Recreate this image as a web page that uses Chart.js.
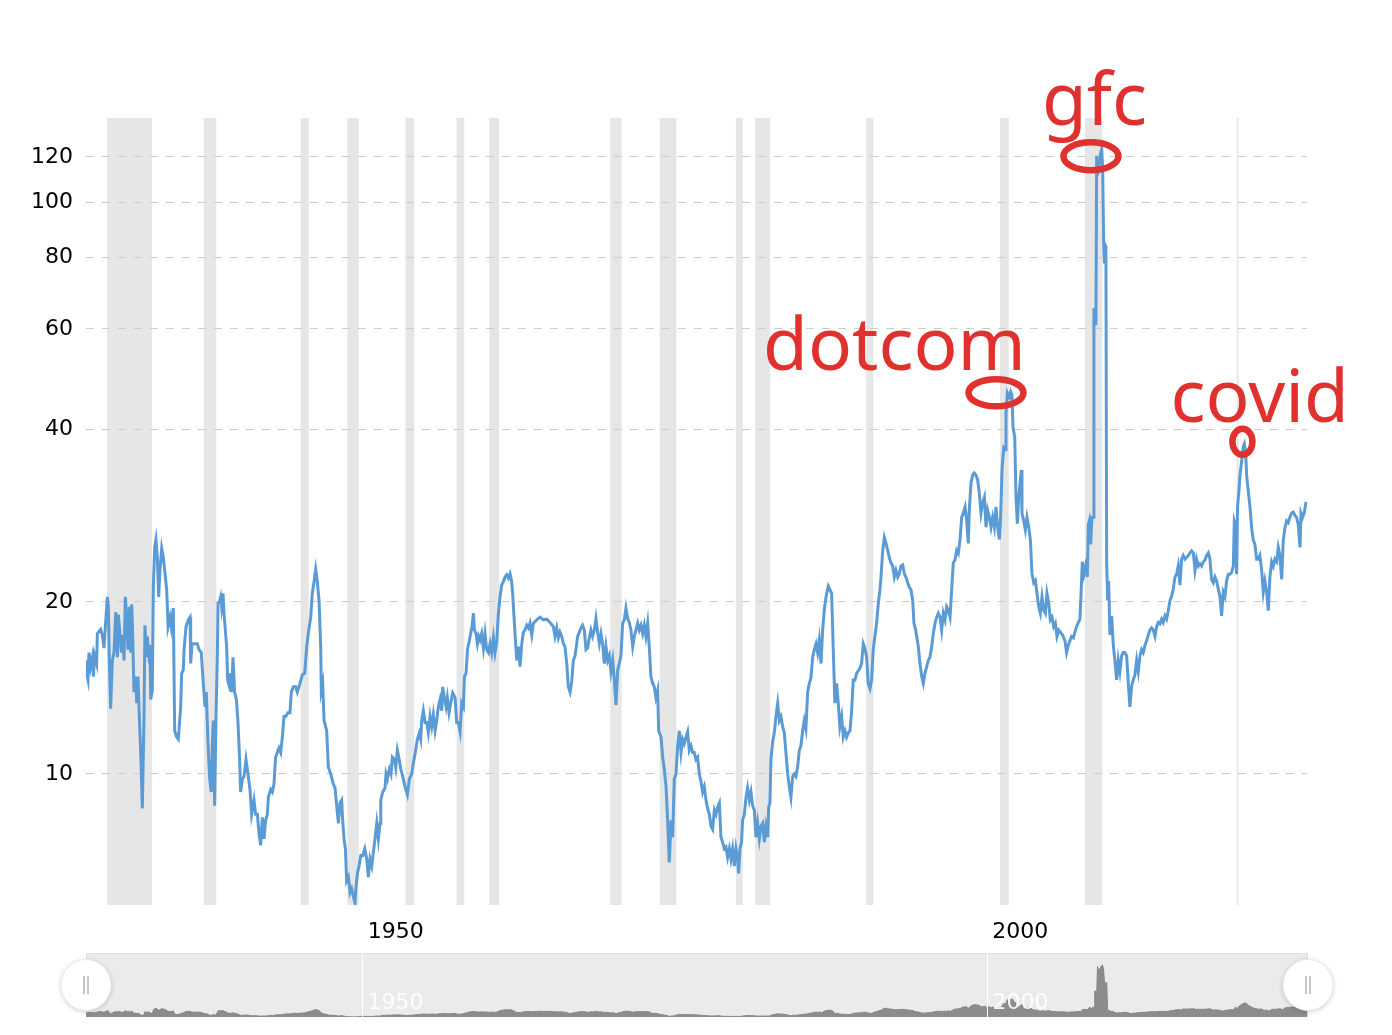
<!DOCTYPE html>
<html>
<head>
<meta charset="utf-8">
<title>S&amp;P 500 PE Ratio</title>
<script src="https://cdn.jsdelivr.net/npm/chart.js@4.4.1/dist/chart.umd.min.js"></script>
<style>
  html, body { margin: 0; padding: 0; background: #fff; overflow: hidden; }
  #wrap { position: relative; width: 1392px; height: 1035px; }
  #peChart { position: absolute; left: 0; top: 0; }
  #navChart { position: absolute; left: 0; top: 945px; }
</style>
</head>
<body>
<div id="wrap">
  <canvas id="peChart" width="1392" height="945"></canvas>
  <canvas id="navChart" width="1392" height="90"></canvas>
</div>
<script>
// monthly-ish PE readings (decimal year)
const peYears = [
  // 1928 - 1947
  1927.89, 1927.97, 1928.08, 1928.16, 1928.29, 1928.43, 1928.51, 1928.61, 1928.77, 1928.83,
  1929.09, 1929.23, 1929.36, 1929.47, 1929.63, 1929.71, 1929.79, 1929.89, 1930.03, 1930.16,
  1930.30, 1930.43, 1930.51, 1930.64, 1930.75, 1930.88, 1930.96, 1931.07, 1931.18, 1931.28,
  1931.39, 1931.50, 1931.58, 1931.66, 1931.76, 1931.90, 1931.98, 1932.08, 1932.16, 1932.30,
  1932.43, 1932.56, 1932.64, 1932.75, 1932.83, 1932.94, 1933.04, 1933.10, 1933.23, 1933.31,
  1933.42, 1933.52, 1933.63, 1933.74, 1933.84, 1933.98, 1934.11, 1934.25, 1934.38, 1934.49,
  1934.65, 1934.75, 1934.91, 1935.02, 1935.18, 1935.31, 1935.50, 1935.58, 1935.71, 1935.77,
  1935.93, 1936.11, 1936.25, 1936.30, 1936.41, 1936.57, 1936.83, 1936.97, 1937.15, 1937.31,
  1937.45, 1937.55, 1937.69, 1937.82, 1937.95, 1938.03, 1938.11, 1938.22, 1938.33, 1938.44,
  1938.49, 1938.60, 1938.70, 1938.78, 1938.89, 1938.97, 1939.08, 1939.18, 1939.26, 1939.37,
  1939.50, 1939.58, 1939.69, 1939.82, 1939.96, 1940.09, 1940.22, 1940.30, 1940.44, 1940.57,
  1940.73, 1940.89, 1941.05, 1941.18, 1941.37, 1941.50, 1941.64, 1941.77, 1941.90, 1942.04,
  1942.17, 1942.30, 1942.44, 1942.52, 1942.71, 1942.84, 1942.97, 1943.10, 1943.24, 1943.37,
  1943.51, 1943.64, 1943.77, 1943.91, 1944.09, 1944.25, 1944.36, 1944.52, 1944.71, 1944.84,
  1945.05, 1945.24, 1945.43, 1945.59, 1945.72, 1945.91, 1946.04, 1946.18, 1946.31, 1946.44,
  1946.58, 1946.71, 1946.76, 1946.87, 1946.98, 1947.19, 1947.32, 1947.51, 1947.72,
  // 1948 - 1967
  1947.86, 1947.99, 1948.13, 1948.26, 1948.39, 1948.47, 1948.58, 1948.69, 1948.79, 1948.93,
  1949.06, 1949.19, 1949.33, 1949.46, 1949.54, 1949.65, 1949.78, 1949.92, 1950.08, 1950.24,
  1950.40, 1950.53, 1950.66, 1950.80, 1950.93, 1951.06, 1951.20, 1951.33, 1951.46, 1951.52,
  1951.68, 1951.86, 1951.94, 1952.05, 1952.21, 1952.34, 1952.45, 1952.61, 1952.72, 1952.85,
  1952.98, 1953.12, 1953.28, 1953.46, 1953.65, 1953.81, 1954.00, 1954.13, 1954.29, 1954.45,
  1954.61, 1954.72, 1954.80, 1954.93, 1955.07, 1955.20, 1955.33, 1955.47, 1955.60, 1955.73,
  1955.87, 1956.00, 1956.13, 1956.27, 1956.40, 1956.48, 1956.61, 1956.75, 1956.85, 1956.99,
  1957.12, 1957.28, 1957.47, 1957.60, 1957.73, 1957.87, 1958.00, 1958.14, 1958.22, 1958.35,
  1958.46, 1958.62, 1958.72, 1958.83, 1958.94, 1959.02, 1959.15, 1959.26, 1959.36, 1959.47,
  1959.60, 1959.74, 1959.87, 1960.00, 1960.14, 1960.27, 1960.40, 1960.54, 1960.67, 1960.80,
  1960.94, 1961.07, 1961.20, 1961.34, 1961.47, 1961.60, 1961.74, 1961.87, 1962.00, 1962.08,
  1962.19, 1962.30, 1962.41, 1962.54, 1962.67, 1962.81, 1962.94, 1963.07, 1963.21, 1963.34,
  1963.47, 1963.61, 1963.74, 1964.01, 1964.27, 1964.54, 1964.81, 1965.07, 1965.34, 1965.47,
  1965.61, 1965.74, 1965.87, 1966.01, 1966.14, 1966.27, 1966.41, 1966.54, 1966.68, 1966.81,
  1966.94, 1967.08, 1967.21,
  // 1967 - 1987
  1967.28, 1967.42, 1967.55, 1967.68, 1967.82, 1967.95, 1968.08, 1968.22, 1968.35, 1968.48,
  1968.62, 1968.75, 1968.88, 1969.02, 1969.15, 1969.28, 1969.42, 1969.55, 1969.69, 1969.82,
  1969.95, 1970.09, 1970.22, 1970.35, 1970.49, 1970.62, 1970.75, 1970.89, 1971.02, 1971.15,
  1971.29, 1971.42, 1971.55, 1971.69, 1971.82, 1971.95, 1972.09, 1972.22, 1972.35, 1972.49,
  1972.62, 1972.75, 1972.89, 1973.02, 1973.15, 1973.29, 1973.42, 1973.55, 1973.69, 1973.77,
  1973.96, 1974.09, 1974.22, 1974.36, 1974.49, 1974.62, 1974.76, 1974.89, 1975.02, 1975.16,
  1975.29, 1975.42, 1975.56, 1975.69, 1975.82, 1975.96, 1976.09, 1976.22, 1976.36, 1976.49,
  1976.62, 1976.76, 1976.89, 1977.02, 1977.16, 1977.29, 1977.42, 1977.56, 1977.69, 1977.83,
  1977.96, 1978.09, 1978.23, 1978.36, 1978.49, 1978.63, 1978.76, 1978.89, 1979.03, 1979.16,
  1979.29, 1979.43, 1979.56, 1979.69, 1979.83, 1979.96, 1980.09, 1980.17, 1980.28, 1980.41,
  1980.49, 1980.63, 1980.76, 1980.89, 1981.03, 1981.16, 1981.29, 1981.43, 1981.56, 1981.69,
  1981.83, 1981.96, 1982.10, 1982.23, 1982.36, 1982.50, 1982.58, 1982.68, 1982.76, 1982.90,
  1983.03, 1983.16, 1983.30, 1983.43, 1983.56, 1983.70, 1983.83, 1983.96, 1984.10, 1984.23,
  1984.36, 1984.50, 1984.63, 1984.76, 1984.90, 1985.03, 1985.16, 1985.30, 1985.43, 1985.56,
  1985.70, 1985.83, 1985.96, 1986.10, 1986.23, 1986.37, 1986.50, 1986.63, 1986.77, 1986.90,
  1987.03, 1987.17,
  // 1987 - 1991
  1987.35, 1987.62, 1987.75, 1987.88, 1988.02, 1988.15, 1988.28, 1988.42, 1988.55, 1988.69,
  1988.82, 1988.95, 1989.09, 1989.22, 1989.35, 1989.49, 1989.62, 1989.88, 1990.02, 1990.15,
  1990.28, 1990.42, 1990.55, 1990.69, 1990.82, 1990.95, 1991.22, 1991.36, 1991.49,
  // 1991 - 2001
  1991.57, 1991.71, 1991.84, 1991.97, 1992.11, 1992.24, 1992.37, 1992.51, 1992.64, 1992.77,
  1992.91, 1993.04, 1993.17, 1993.31, 1993.44, 1993.57, 1993.71, 1993.84, 1993.97, 1994.11,
  1994.21, 1994.35, 1994.43, 1994.56, 1994.69, 1994.83, 1994.96, 1995.09, 1995.23, 1995.36,
  1995.49, 1995.63, 1995.76, 1995.90, 1996.03, 1996.16, 1996.30, 1996.43, 1996.56, 1996.70,
  1996.83, 1996.96, 1997.10, 1997.23, 1997.36, 1997.50, 1997.63, 1997.76, 1997.90, 1998.03,
  1998.16, 1998.30, 1998.43, 1998.56, 1998.64, 1998.78, 1998.91, 1999.04, 1999.18, 1999.31,
  1999.44, 1999.58, 1999.71, 1999.85, 1999.98, 2000.11, 2000.25, 2000.38, 2000.51, 2000.65,
  2000.78, 2000.91, 2001.05, 2001.15,
  // 2001 - 2005
  2001.26, 2001.40, 2001.53, 2001.58, 2001.69, 2001.85, 2001.96, 2002.06, 2002.14, 2002.28,
  2002.38, 2002.49, 2002.60, 2002.73, 2002.81, 2002.86, 2002.99, 2003.13, 2003.26, 2003.40,
  2003.53, 2003.66, 2003.80, 2003.93, 2004.06, 2004.20, 2004.33, 2004.46, 2004.60, 2004.73,
  2004.86, 2005.00, 2005.13, 2005.26, 2005.40, 2005.53, 2005.66, 2005.80,
  // 2006 - 2025
  2006.11, 2006.30, 2006.43, 2006.57, 2006.70, 2006.83, 2006.97, 2007.10, 2007.23, 2007.37,
  2007.50, 2007.58, 2007.69, 2007.82, 2007.95, 2008.09, 2008.17, 2008.25, 2008.36, 2008.46,
  2008.57, 2008.62, 2008.70, 2008.78, 2008.84, 2008.92, 2009.05, 2009.16, 2009.24, 2009.32,
  2009.40, 2009.45, 2009.50, 2009.58, 2009.64, 2009.72, 2009.80, 2009.90, 2010.04, 2010.17,
  2010.30, 2010.44, 2010.57, 2010.70, 2010.84, 2010.97, 2011.10, 2011.24, 2011.37, 2011.50,
  2011.64, 2011.77, 2011.90, 2012.04, 2012.17, 2012.31, 2012.44, 2012.57, 2012.71, 2012.84,
  2012.97, 2013.11, 2013.24, 2013.37, 2013.51, 2013.64, 2013.77, 2013.91, 2014.04, 2014.17,
  2014.31, 2014.44, 2014.57, 2014.71, 2014.84, 2014.97, 2015.11, 2015.24, 2015.37, 2015.51,
  2015.64, 2015.77, 2015.91, 2016.04, 2016.17, 2016.31, 2016.44, 2016.58, 2016.71, 2016.84,
  2016.98, 2017.11, 2017.24, 2017.38, 2017.51, 2017.64, 2017.78, 2017.91, 2018.04, 2018.18,
  2018.31, 2018.44, 2018.58, 2018.71, 2018.84, 2018.98, 2019.11, 2019.24, 2019.38, 2019.51,
  2019.64, 2019.78, 2019.86, 2019.96, 2020.04, 2020.12, 2020.23, 2020.31, 2020.45, 2020.58,
  2020.66, 2020.77, 2020.85, 2020.98, 2021.11, 2021.25, 2021.38, 2021.51, 2021.65, 2021.78,
  2021.91, 2022.05, 2022.18, 2022.31, 2022.45, 2022.58, 2022.71, 2022.85, 2022.98, 2023.11,
  2023.25, 2023.38, 2023.51, 2023.65, 2023.78, 2023.91, 2024.05, 2024.18, 2024.31, 2024.45,
  2024.58, 2024.72, 2024.85, 2024.98, 2025.12, 2025.20, 2025.33, 2025.46, 2025.60
];

const peValues = [
  // 1928 - 1947
  15.8, 15.0, 14.6, 16.3, 15.4, 16.0, 14.8, 16.1, 15.6, 17.6,
  17.9, 17.5, 16.6, 18.1, 20.4, 19.6, 15.8, 13.0, 15.8, 16.3,
  19.2, 16.0, 19.0, 17.6, 16.3, 17.5, 15.8, 20.4, 18.6, 16.5,
  19.6, 16.3, 19.8, 17.4, 13.9, 14.8, 13.3, 14.8, 13.1, 10.9,
  8.7, 12.4, 18.2, 16.0, 17.4, 16.3, 16.8, 13.5, 14.0, 21.2,
  24.9, 25.7, 23.9, 20.4, 22.7, 24.8, 23.9, 22.4, 21.0, 18.1,
  18.8, 18.1, 19.5, 11.9, 11.6, 11.5, 13.1, 15.0, 15.2, 16.5,
  18.1, 18.6, 18.8, 15.6, 16.9, 16.9, 16.9, 16.5, 16.3, 14.4,
  13.1, 13.9, 11.3, 9.8, 9.3, 11.2, 12.4, 8.8, 12.6, 16.3,
  19.9, 20.0, 20.4, 19.6, 20.7, 19.1, 17.8, 16.7, 14.6, 14.3,
  15.0, 13.9, 16.0, 13.9, 13.5, 12.3, 10.6, 9.3, 9.8, 9.9,
  10.6, 10.0, 9.4, 8.5, 9.0, 8.5, 8.5, 7.9, 7.5, 8.4,
  7.7, 8.3, 8.5, 9.1, 9.4, 9.3, 9.6, 10.7, 10.9, 11.1,
  10.9, 11.6, 12.6, 12.6, 12.8, 12.8, 13.9, 14.2, 14.2, 13.9,
  14.4, 14.9, 15.0, 16.7, 17.6, 18.8, 20.7, 21.7, 22.8, 21.7,
  20.1, 16.7, 14.0, 14.4, 12.4, 11.9, 10.3, 10.0, 9.6,
  // 1948 - 1967
  9.45, 8.8, 8.2, 8.9, 9.0, 8.3, 7.7, 7.4, 6.5, 6.6,
  6.2, 6.3, 6.1, 5.95, 6.35, 6.7, 6.9, 7.2, 7.2, 7.4,
  7.1, 6.6, 7.1, 6.9, 7.3, 7.7, 8.2, 7.7, 8.2, 9.0,
  9.3, 9.45, 10.0, 9.8, 10.2, 10.0, 10.7, 10.6, 10.25, 11.0,
  10.65, 10.2, 9.9, 9.5, 9.2, 9.8, 10.0, 10.45, 10.9, 11.5,
  11.8, 11.5, 12.4, 12.9, 12.3, 12.3, 11.8, 12.6, 12.1, 12.7,
  11.9, 12.4, 13.1, 13.5, 12.9, 14.2, 13.6, 13.1, 13.6, 12.8,
  13.3, 13.85, 13.6, 12.3, 12.3, 11.85, 13.3, 13.1, 14.8, 15.0,
  16.5, 17.15, 17.6, 18.1, 19.1, 17.85, 17.6, 16.9, 17.4, 17.15,
  17.6, 16.6, 17.6, 16.5, 16.3, 16.9, 16.3, 17.3, 16.3, 17.0,
  19.1, 20.4, 21.4, 21.7, 22.1, 22.3, 22.0, 22.4, 21.7, 20.7,
  18.8, 17.15, 15.8, 16.7, 15.4, 16.9, 17.7, 17.85, 18.2, 18.0,
  18.35, 17.5, 18.35, 18.6, 18.8, 18.6, 18.65, 18.4, 18.1, 17.4,
  18.0, 17.3, 17.7, 17.4, 16.9, 16.7, 15.6, 14.2, 13.9, 14.5,
  15.8, 16.1, 16.9,
  // 1967 - 1987
  17.4, 17.7, 18.0, 18.2, 17.85, 16.5, 16.6, 17.3, 17.85, 17.4,
  17.85, 18.7, 17.7, 16.9, 17.6, 16.9, 15.6, 16.7, 15.8, 16.1,
  15.1, 15.8, 14.6, 13.2, 15.2, 15.6, 16.1, 18.35, 18.6, 19.5,
  18.7, 18.4, 17.85, 16.7, 17.4, 17.85, 18.35, 17.85, 18.2, 17.6,
  18.2, 17.4, 18.35, 16.7, 14.8, 14.4, 14.2, 13.6, 14.0, 11.9,
  11.6, 10.7, 10.2, 9.5, 8.3, 7.0, 8.3, 7.75, 9.8, 10.0,
  11.2, 11.9, 10.9, 11.5, 11.3, 11.6, 11.85, 11.0, 11.2, 10.9,
  10.9, 10.6, 10.7, 10.0, 9.7, 9.3, 9.5, 9.0, 8.7, 8.5,
  8.1, 8.0, 8.65, 8.5, 8.75, 8.9, 7.75, 7.6, 7.4, 7.45,
  7.15, 7.4, 7.1, 7.4, 6.9, 7.4, 7.1, 6.7, 7.4, 7.6,
  8.3, 8.5, 9.1, 9.45, 9.0, 9.3, 8.8, 8.65, 7.75, 8.2,
  7.7, 8.1, 8.2, 7.6, 8.1, 7.75, 8.75, 8.9, 10.6, 11.4,
  11.8, 12.6, 13.3, 12.4, 12.6, 12.1, 11.8, 10.9, 10.0, 9.5,
  9.1, 9.9, 10.0, 9.9, 10.3, 11.0, 11.2, 11.9, 12.4, 12.0,
  13.9, 14.4, 14.7, 16.0, 16.5, 16.9, 16.3, 17.15, 15.6, 17.85,
  19.35, 20.4,
  // 1987 - 1991
  21.3, 20.7, 16.5, 13.3, 14.4, 13.3, 12.1, 12.6, 11.6, 11.9,
  11.6, 11.8, 11.9, 12.9, 14.6, 14.6, 15.0, 15.3, 15.6, 16.9,
  16.6, 16.0, 14.4, 14.1, 14.6, 16.5, 18.35, 19.9, 21.0,
  // 1991 - 2001
  22.1, 24.6, 25.9, 25.3, 24.6, 23.9, 23.4, 23.1, 22.1, 22.7,
  22.1, 22.4, 23.1, 23.2, 22.4, 22.1, 21.6, 21.2, 21.0, 20.1,
  18.35, 17.85, 17.4, 16.7, 15.6, 14.8, 14.4, 15.0, 15.4, 15.8,
  16.0, 16.7, 17.6, 18.35, 18.8, 19.1, 18.8, 17.85, 19.1, 18.6,
  19.6, 19.35, 18.8, 21.0, 23.4, 23.7, 24.6, 24.3, 25.7, 28.1,
  28.6, 29.3, 27.8, 25.3, 28.9, 32.3, 33.3, 33.6, 33.3, 32.7,
  31.0, 28.6, 29.8, 30.5, 27.0, 28.9, 28.1, 27.0, 28.1, 27.0,
  29.3, 27.0, 25.7, 28.1,
  // 2001 - 2005
  34.0, 37.2, 36.9, 42.7, 46.4, 45.6, 46.6, 46.0, 40.4, 38.8,
  30.5, 27.4, 30.5, 32.7, 34.0, 28.6, 27.8, 26.7, 28.1, 27.0,
  25.7, 22.4, 21.6, 21.8, 20.7, 19.6, 19.1, 20.4, 19.35, 19.1,
  20.7, 19.9, 18.6, 18.8, 18.1, 18.35, 17.4, 17.85,
  // 2006 - 2025
  17.5, 17.1, 16.3, 16.8, 17.1, 17.4, 17.3, 17.7, 18.1, 18.4,
  18.65, 20.45, 23.5, 22.35, 23.1, 22.1, 27.25, 27.7, 25.2, 28.1,
  28.1, 64.8, 64.8, 60.9, 120.5, 111.4, 116.4, 121.9, 123.7, 114.6,
  84.8, 78.6, 84.3, 83.6, 23.5, 20.1, 21.75, 17.5, 18.9, 16.8,
  15.8, 14.6, 15.8, 15.1, 16.1, 16.3, 16.3, 16.1, 14.4, 13.1,
  14.25, 14.6, 14.9, 15.8, 15.1, 16.1, 16.5, 16.3, 16.8, 17.1,
  17.5, 17.85, 18.0, 17.85, 17.4, 18.1, 18.4, 18.3, 18.65, 18.4,
  18.9, 18.65, 19.3, 20.1, 20.45, 21.05, 22.1, 22.35, 23.1, 21.4,
  23.75, 24.1, 23.75, 23.9, 24.1, 24.35, 24.55, 24.35, 22.7, 23.75,
  23.1, 23.3, 23.1, 23.5, 23.65, 24.1, 24.35, 23.75, 21.9, 21.6,
  22.1, 21.75, 21.05, 20.45, 18.9, 20.8, 20.45, 21.75, 22.35, 22.35,
  22.5, 23.1, 27.7, 27.25, 22.35, 29.4, 31.2, 33.2, 35.3, 37.45,
  37.8, 36.4, 33.2, 31.2, 29.4, 26.9, 25.65, 25.2, 23.75, 23.75,
  24.1, 22.7, 20.8, 21.75, 20.8, 19.3, 22.1, 23.5, 23.1, 23.75,
  23.5, 24.9, 24.1, 21.9, 25.65, 26.9, 27.7, 27.5, 28.1, 28.6,
  28.7, 28.3, 28.1, 27.25, 24.9, 28.6, 28.1, 28.6, 29.9
];

// US recessions (shaded bands)
const recessionStart = [1929.6, 1937.35, 1945.1, 1948.85, 1953.5, 1957.6, 1960.2, 1969.9, 1973.85, 1979.95, 1981.5, 1990.4, 2001.1, 2007.9, 2020.05];
const recessionEnd   = [1933.2, 1938.35, 1945.75, 1949.75, 1954.2, 1958.2, 1961.0, 1970.8, 1975.2, 1980.5, 1982.7, 1990.95, 2001.8, 2009.3, 2020.2];

const xTickYears = [1950, 2000];
const yTickValues = [10, 20, 40, 60, 80, 100, 120];

// hand drawn notes on the chart
const noteLabels = ["dotcom", "gfc", "covid"];
const noteYears = [2000.78, 2008.38, 2020.51];
const noteValues = [46.4, 120.3, 38.1];
const noteShapes = [
  { rx: 27.5, ry: 13.5, dx: -233, dy: -23 },
  { rx: 27.5, ry: 14, dx: -49, dy: -31 },
  { rx: 10, ry: 13, dx: -72, dy: -20 }
];

const xMin = 1927.92, xMax = 2025.68;
const lineColor = "#5b9bd5";
const noteColor = "#e0312f";

Chart.defaults.font.family = "'DejaVu Sans', Verdana, sans-serif";

const recessionPlugin = {
  id: "recessions",
  beforeDraw(chart) {
    const { ctx, chartArea, scales } = chart;
    ctx.save();
    ctx.fillStyle = "#e6e6e6";
    recessionStart.forEach(function(s, i) {
      const x0 = scales.x.getPixelForValue(s);
      const x1 = scales.x.getPixelForValue(recessionEnd[i]);
      ctx.fillRect(x0, chartArea.top, Math.max(x1 - x0, 1.5), chartArea.bottom - chartArea.top);
    });
    ctx.restore();
  }
};

const notesPlugin = {
  id: "notes",
  afterDatasetsDraw(chart) {
    const { ctx, scales } = chart;
    ctx.save();
    ctx.strokeStyle = noteColor;
    ctx.fillStyle = noteColor;
    ctx.lineWidth = 6.5;
    ctx.font = "73px 'Noto Sans'";
    ctx.textBaseline = "alphabetic";
    noteLabels.forEach(function(label, i) {
      const cx = scales.x.getPixelForValue(noteYears[i]);
      const cy = scales.y.getPixelForValue(noteValues[i]);
      const s = noteShapes[i];
      ctx.beginPath();
      ctx.ellipse(cx, cy, s.rx, s.ry, 0, 0, Math.PI * 2);
      ctx.stroke();
      ctx.fillText(label, cx + s.dx, cy + s.dy);
    });
    ctx.restore();
  }
};

const mainCtx = document.getElementById("peChart").getContext("2d");
new Chart(mainCtx, {
  type: "line",
  data: {
    datasets: [{
      data: peYears.map((yr, i) => ({ x: yr, y: peValues[i] })),
      borderColor: lineColor,
      borderWidth: 3,
      pointRadius: 0,
      tension: 0,
      fill: false
    }]
  },
  options: {
    responsive: false,
    animation: false,
    layout: { padding: { left: 0, right: 85, top: 118, bottom: 0 } },
    plugins: { legend: { display: false }, tooltip: { enabled: false } },
    scales: {
      x: {
        type: "linear",
        min: xMin,
        max: xMax,
        grid: { display: false, drawTicks: false },
        border: { display: false },
        afterBuildTicks: (scale) => { scale.ticks = xTickYears.map(v => ({ value: v })); },
        afterFit: (scale) => { scale.height = 40; },
        ticks: {
          autoSkip: false,
          maxRotation: 0,
          padding: 14,
          labelOffset: 34,
          color: "#000",
          font: { size: 22 },
          callback: (v) => String(v)
        }
      },
      y: {
        type: "logarithmic",
        min: 5.9,
        max: 140.3,
        grid: { color: "#cdcdcd", lineWidth: 1, drawTicks: false },
        border: { display: false, dash: [8, 8] },
        afterBuildTicks: (scale) => { scale.ticks = yTickValues.map(v => ({ value: v })); },
        afterFit: (scale) => { scale.width = 86; },
        ticks: {
          padding: 13,
          color: "#000",
          font: { size: 22 },
          callback: (v) => String(v)
        }
      }
    }
  },
  plugins: [recessionPlugin, notesPlugin]
});

// navigator strip below the chart
const navPlugin = {
  id: "navigator",
  beforeDraw(chart) {
    const { ctx, chartArea: a } = chart;
    ctx.save();
    ctx.fillStyle = "#ebebeb";
    ctx.fillRect(a.left, a.top, a.right - a.left, a.bottom - a.top);
    ctx.strokeStyle = "#dedede";
    ctx.lineWidth = 1;
    ctx.strokeRect(a.left + 0.5, a.top + 0.5, a.right - a.left - 1, a.bottom - a.top - 1);
    ctx.restore();
  },
  afterDatasetsDraw(chart) {
    const { ctx, chartArea: a, scales } = chart;
    ctx.save();
    ctx.strokeStyle = "#ffffff";
    ctx.lineWidth = 1;
    ctx.fillStyle = "rgba(255,255,255,0.9)";
    ctx.font = "22px 'DejaVu Sans'";
    ctx.textBaseline = "alphabetic";
    xTickYears.forEach(function(yr) {
      const px = Math.round(scales.x.getPixelForValue(yr)) + 0.5;
      ctx.beginPath();
      ctx.moveTo(px, a.top);
      ctx.lineTo(px, a.bottom);
      ctx.stroke();
      ctx.fillText(String(yr), px + 5, a.bottom - 8);
    });
    // handles
    const cy = (a.top + a.bottom) / 2;
    [a.left, a.right].forEach(function(cx) {
      ctx.save();
      ctx.shadowColor = "rgba(0,0,0,0.22)";
      ctx.shadowBlur = 5;
      ctx.shadowOffsetY = 1;
      ctx.fillStyle = "#ffffff";
      ctx.beginPath();
      ctx.ellipse(cx, cy, 25, 25.5, 0, 0, Math.PI * 2);
      ctx.fill();
      ctx.restore();
      ctx.strokeStyle = "#ebebeb";
      ctx.beginPath();
      ctx.ellipse(cx, cy, 25, 25.5, 0, 0, Math.PI * 2);
      ctx.stroke();
      ctx.strokeStyle = "#a0a0a0";
      ctx.lineWidth = 1.2;
      [-2, 2].forEach(function(off) {
        ctx.beginPath();
        ctx.moveTo(cx + off, cy - 9);
        ctx.lineTo(cx + off, cy + 9);
        ctx.stroke();
      });
      ctx.lineWidth = 1;
    });
    ctx.restore();
  }
};

const navCtx = document.getElementById("navChart").getContext("2d");
new Chart(navCtx, {
  type: "line",
  data: {
    datasets: [{
      data: peYears.map((yr, i) => ({ x: yr, y: peValues[i] })),
      borderColor: "#858585",
      backgroundColor: "#8c8c8c",
      borderWidth: 1,
      pointRadius: 0,
      tension: 0,
      fill: "start"
    }]
  },
  options: {
    responsive: false,
    animation: false,
    layout: { padding: { left: 86, right: 84, top: 8, bottom: 18 } },
    plugins: { legend: { display: false }, tooltip: { enabled: false } },
    scales: {
      x: { type: "linear", min: xMin, max: xMax, display: false },
      y: { type: "linear", min: 5.9, max: 151, display: false }
    }
  },
  plugins: [navPlugin]
});
</script>
</body>
</html>
